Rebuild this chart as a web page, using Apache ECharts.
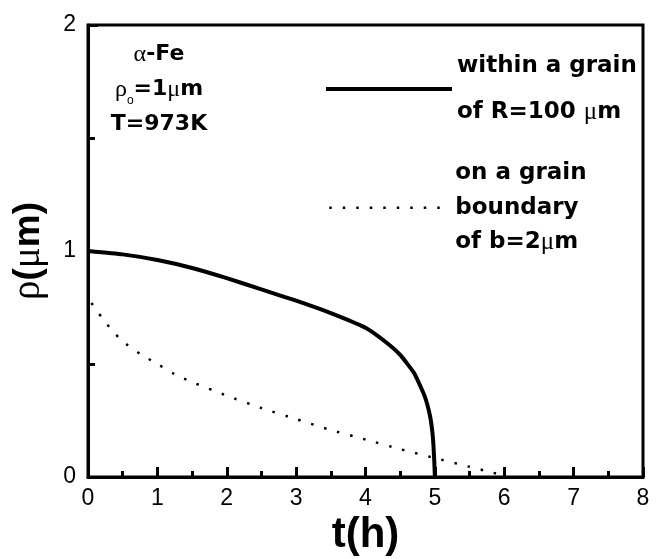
<!DOCTYPE html>
<html>
<head>
<meta charset="utf-8">
<script src="https://cdn.jsdelivr.net/npm/echarts@6/dist/echarts.min.js"></script>
<style>html,body{margin:0;padding:0;background:#fff}#c{width:664px;height:559px}</style>
</head>
<body>
<div id="c"></div>
<script>
// Data
const xTicks = [0, 1, 2, 3, 4, 5, 6, 7, 8];
const yTicks = [0, 1, 2];
const grainT   = [0, 0.5, 1, 1.5, 2, 2.5, 3, 3.5, 4, 4.3, 4.5, 4.7, 4.85, 4.93, 4.97, 4.99, 5.0];
const grainRho = [1.0, 0.985, 0.96, 0.925, 0.88, 0.83, 0.78, 0.725, 0.66, 0.595, 0.54, 0.46, 0.36, 0.27, 0.18, 0.08, 0.0];
const gbT   = [0.05, 0.2, 0.35, 0.5, 0.75, 1, 1.25, 1.5, 2, 2.5, 3, 3.5, 4, 4.5, 5, 5.5, 5.8, 6.0];
const gbRho = [0.77, 0.705, 0.648, 0.60, 0.545, 0.50, 0.455, 0.42, 0.36, 0.305, 0.256, 0.208, 0.166, 0.123, 0.084, 0.045, 0.022, 0.005];
const seriesNames = ['within', 'boundary'];

const zip = (a, b) => a.map((v, i) => [v, b[i]]);
const bold = 'DejaVu Sans';

const chart = echarts.init(document.getElementById('c'), null, {renderer: 'canvas'});
chart.setOption({
  animation: false,
  backgroundColor: '#fff',
  grid: {left: 88, right: 21, top: 25, bottom: 82, show: true, borderColor: '#000', borderWidth: 3,
         containLabel: false, outerBoundsMode: 'none'},
  title: {
    left: 154, top: 32, textAlign: 'center',
    text: '{u|α}-Fe\n{u|ρ}{s|o}=1{u|μ}m\nT=973K',
    textStyle: {
      fontFamily: bold, fontWeight: 'bold', fontSize: 22, color: '#000', lineHeight: 35,
      rich: {
        u: {fontFamily: 'Liberation Serif', fontWeight: 'normal', fontSize: 24, color: '#000', lineHeight: 35},
        s: {fontFamily: 'Liberation Sans', fontWeight: 'normal', fontSize: 12, color: '#000', verticalAlign: 'bottom', lineHeight: 35, padding: [16, 0, 0, 0]}
      }
    }
  },
  legend: [
    {
      data: [seriesNames[0]], left: 324, top: 43, orient: 'vertical', padding: 0,
      itemWidth: 126, itemHeight: 10,
      itemStyle: {opacity: 0},
      lineStyle: {width: 4, color: '#000'},
      formatter: () => 'within a grain\nof R=100 {u|μ}m',
      textStyle: {fontFamily: bold, fontWeight: 'bold', fontSize: 23, color: '#000', lineHeight: 46,
        rich: {u: {fontFamily: 'Liberation Serif', fontWeight: 'normal', fontSize: 25, color: '#000', lineHeight: 46}}}
    },
    {
      data: [seriesNames[1]], left: 328, top: 156, orient: 'vertical', padding: 0,
      itemWidth: 121, itemHeight: 10,
      itemStyle: {opacity: 0},
      lineStyle: {width: 2.5, color: '#000'},
      formatter: () => 'on a grain\nboundary\nof b=2{u|μ}m',
      textStyle: {fontFamily: bold, fontWeight: 'bold', fontSize: 23, color: '#000', lineHeight: 34.5,
        rich: {u: {fontFamily: 'Liberation Serif', fontWeight: 'normal', fontSize: 25, color: '#000', lineHeight: 34.5}}}
    }
  ],
  xAxis: {
    type: 'value', min: xTicks[0], max: xTicks[xTicks.length - 1], interval: 1,
    name: 't(h)', nameLocation: 'middle', nameGap: 31,
    nameTextStyle: {fontFamily: 'Liberation Sans', fontWeight: 'bold', fontSize: 42, color: '#000'},
    axisLine: {show: true, lineStyle: {color: '#000', width: 3}},
    axisTick: {show: true, inside: true, length: 10, lineStyle: {color: '#000', width: 3}},
    minorTick: {show: true, splitNumber: 2, length: 6, lineStyle: {color: '#000', width: 3}},
    splitLine: {show: false},
    axisLabel: {fontFamily: 'Liberation Sans', fontSize: 23, color: '#000', margin: 10}
  },
  yAxis: {
    type: 'value', min: yTicks[0], max: yTicks[yTicks.length - 1], interval: 1,
    name: '{u|ρ}({u|μ}m)', nameLocation: 'middle', nameGap: 40,
    nameTextStyle: {fontFamily: 'Liberation Sans', fontWeight: 'bold', fontSize: 37, color: '#000',
      rich: {u: {fontFamily: 'Liberation Serif', fontWeight: 'normal', fontSize: 39, color: '#000'}}},
    axisLine: {show: true, lineStyle: {color: '#000', width: 3}},
    axisTick: {show: true, inside: true, length: 10, lineStyle: {color: '#000', width: 3}},
    minorTick: {show: true, splitNumber: 2, length: 7, lineStyle: {color: '#000', width: 3}},
    splitLine: {show: false},
    axisLabel: {fontFamily: 'Liberation Sans', fontSize: 23, color: '#000', margin: 12}
  },
  series: [
    {
      name: seriesNames[0], type: 'line', symbol: 'none', smooth: 0.15,
      data: zip(grainT, grainRho),
      lineStyle: {color: '#000', width: 4}
    },
    {
      name: seriesNames[1], type: 'line', symbol: 'none', smooth: 0.2,
      data: zip(gbT, gbRho),
      lineStyle: {color: '#000', width: 2.5, type: [2.5, 11]}
    }
  ]
});
</script>
</body>
</html>
